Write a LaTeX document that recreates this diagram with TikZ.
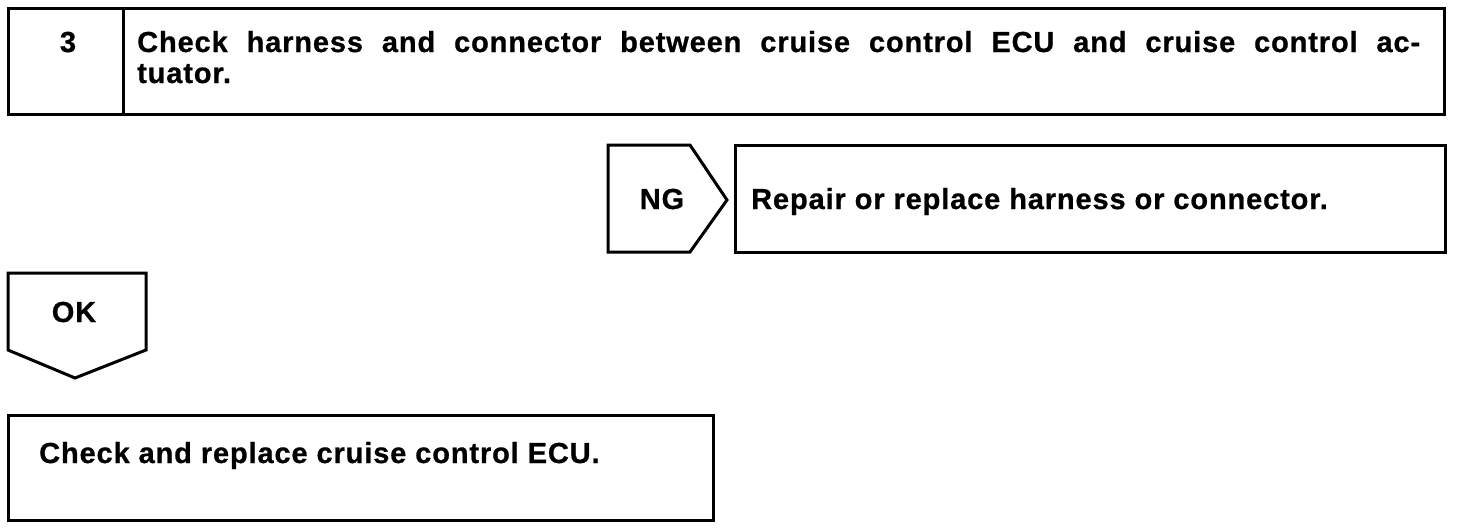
\documentclass[tikz,border=0pt]{standalone}
\usepackage{fontspec}
\setmainfont{Liberation Sans}
\begin{document}
\begin{tikzpicture}[x=1pt,y=-1pt,
    frame/.style={draw,line width=3pt,line join=miter},
    label/.style={inner sep=0pt,anchor=base west,
      font=\bfseries\fontsize{29}{32}\selectfont\addfontfeature{LetterSpace=3,FakeBold=0.8}}]
    \useasboundingbox (0,0) rectangle (1472,530);
    %frames
    \draw[frame] (8,8) rectangle (1444,114);
    \draw[frame] (123,8) -- (123,114);
    \draw[frame] (608,145) -- (690,145) -- (727,200) -- (690,252) -- (608,252) -- cycle;
    \draw[frame] (735,145) rectangle (1445,252);
    \draw[frame] (8,273) -- (146,273) -- (146,350) -- (75,378) -- (8,350) -- cycle;
    \draw[frame] (8,415) rectangle (713,520);
    %texts
    \node[label,anchor=base] (num) at (68,52) {3};
    \node[label] (title) at (137,52) {\makebox[1283pt][s]{Check harness and connector between cruise control ECU and cruise control ac-}};
    \node[label] (title2) at (137,83) {tuator.};
    \node[label,anchor=base] (ng) at (662,209) {NG};
    \node[label] (repair) at (751,209) {Repair or replace harness or connector.};
    \node[label,anchor=base] (ok) at (74,322) {OK};
    \node[label] (ecu) at (39,463) {Check and replace cruise control ECU.};
\end{tikzpicture}
\end{document}
